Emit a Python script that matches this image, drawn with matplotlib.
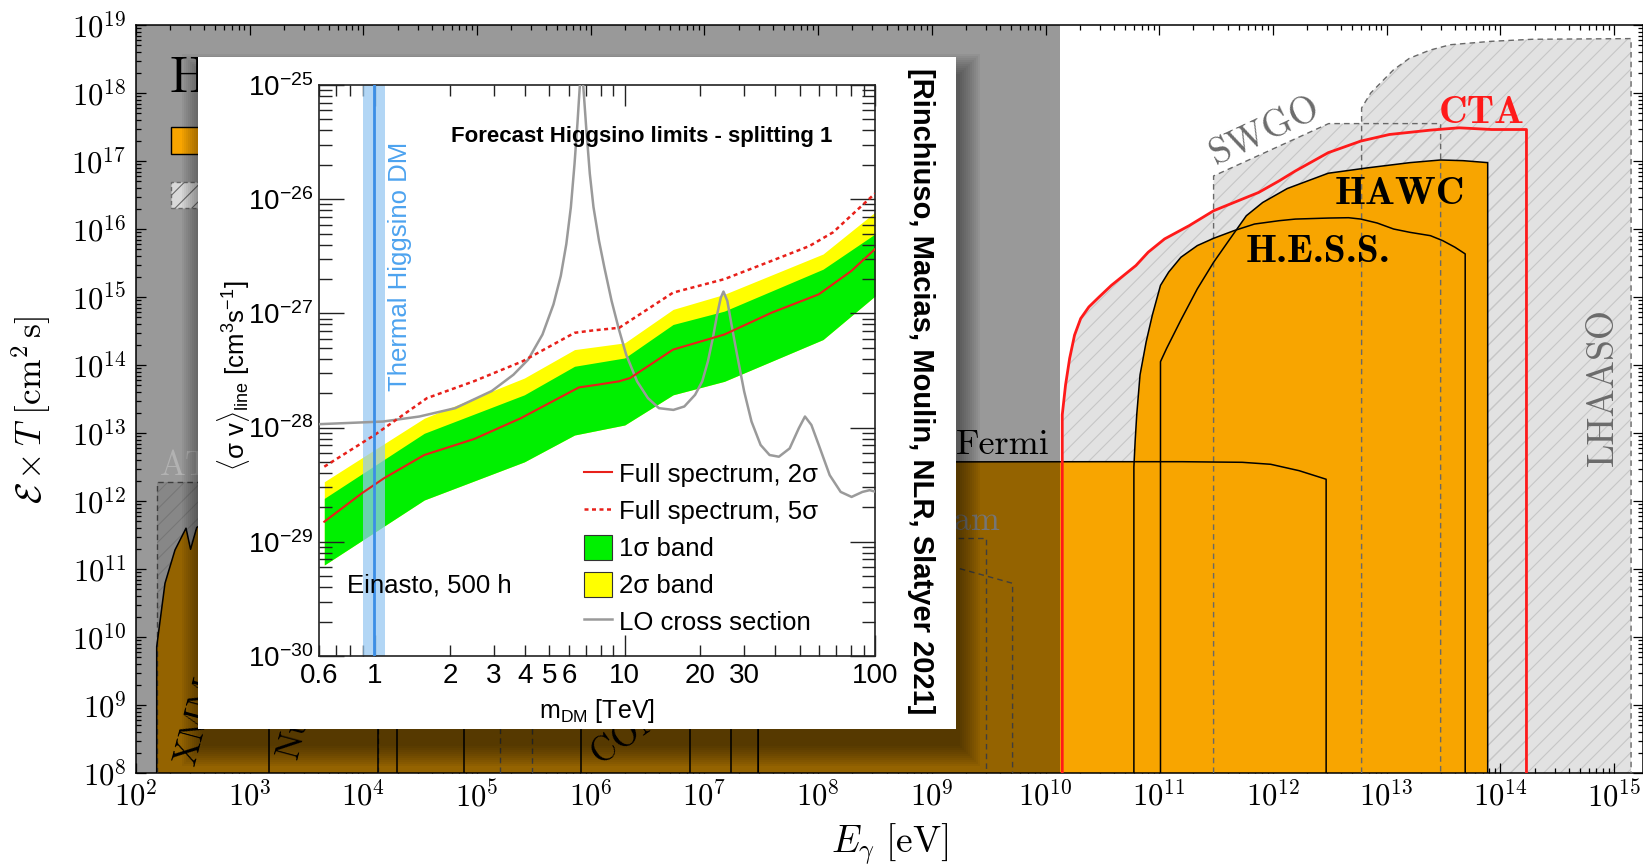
import numpy as np
import matplotlib
matplotlib.use("Agg")
import matplotlib.pyplot as plt
from matplotlib.patches import Rectangle, Patch
from matplotlib.lines import Line2D
from matplotlib.ticker import FuncFormatter, LogLocator, NullFormatter

plt.rcParams.update({
    "mathtext.fontset": "cm",
    "mathtext.rm": "Liberation Sans",
    "mathtext.it": "Liberation Sans:italic",
    "mathtext.bf": "Liberation Sans:bold",
    "mathtext.sf": "Liberation Sans",
    "font.family": "DejaVu Serif",
    "hatch.linewidth": 0.8,
    "axes.linewidth": 1.1,
})

W, H = 1643, 867

# ------------------------------------------------------------------
# Main panel: log10(E_gamma / eV) and log10(exposure / cm^2 s)
# ------------------------------------------------------------------
shaded_logE_max = 10.127          # low-energy part of the plane that is greyed out

lowE_logE = [2.182, 2.182, 2.255, 2.343, 2.44, 2.48, 2.534, 2.8, 4.0, 7.473, 7.473]
lowE_logX = [8.0, 9.857, 10.79, 11.28, 11.6, 11.29, 11.61, 11.9, 11.9, 11.9, 8.0]

edge_solid_logE = [3.171, 4.13, 4.297, 4.888, 5.913, 6.873, 7.236]
edge_solid_top = [11.5, 11.5, 11.5, 11.5, 11.5, 11.5, 11.5]

fermi_logE = [7.473, 7.473, 9.0, 10.5, 11.2, 11.73, 11.98, 12.23, 12.468, 12.468]
fermi_logX = [8.0, 12.57, 12.575, 12.578, 12.578, 12.569, 12.54, 12.446, 12.32, 8.0]

hess_logE = [10.777, 10.777, 10.788, 10.802, 10.831, 10.885, 10.939, 11.011, 11.083,
             11.191, 11.335, 11.478, 11.658, 11.838, 12.054, 12.198, 12.486, 12.665,
             12.773, 12.917, 13.061, 13.205, 13.385, 13.493, 13.601, 13.691, 13.691]
hess_logX = [8.0, 12.5, 12.878, 13.268, 13.854, 14.341, 14.732, 15.171, 15.366,
             15.585, 15.756, 15.863, 15.976, 16.073, 16.122, 16.146, 16.161, 16.166,
             16.146, 16.088, 16.0, 15.951, 15.902, 15.829, 15.732, 15.634, 8.0]

hawc_logE = [11.011, 11.011, 11.065, 11.19, 11.335, 11.478, 11.622, 11.766, 11.91,
             12.126, 12.486, 12.845, 13.205, 13.475, 13.673, 13.889, 13.889]
hawc_logX = [8.0, 14.049, 14.244, 14.66, 15.12, 15.51, 15.854, 16.195, 16.39,
             16.595, 16.82, 16.902, 16.976, 17.015, 17.005, 16.976, 8.0]

cta_logE = [10.147, 10.147, 10.176, 10.212, 10.255, 10.309, 10.381, 10.471, 10.579,
            10.687, 10.795, 10.903, 11.047, 11.263, 11.478, 11.694, 11.874, 12.054,
            12.198, 12.486, 12.773, 13.025, 13.385, 13.637, 13.924, 14.23, 14.23]
cta_logX = [8.0, 13.268, 13.707, 14.098, 14.439, 14.683, 14.854, 15.0, 15.171,
            15.317, 15.463, 15.659, 15.854, 16.049, 16.268, 16.415, 16.537, 16.707,
            16.854, 17.122, 17.293, 17.39, 17.454, 17.488, 17.463, 17.463, 8.0]

swgo_logE = [11.478, 11.478, 12.49, 13.475, 13.475]
swgo_logX = [8.0, 16.78, 17.55, 17.55, 8.0]

lhaaso_logE = [12.78, 12.78, 12.86, 13.06, 13.2, 13.38, 13.56, 13.92, 14.28, 15.15, 15.15]
lhaaso_logX = [8.0, 17.78, 18.0, 18.34, 18.51, 18.63, 18.71, 18.76, 18.79, 18.80, 8.0]

athena_logE = [2.182, 2.182, 4.13, 4.13]
athena_logX = [8.0, 12.275, 12.275, 8.0]

eastrogam_logE = [5.479, 5.479, 9.476, 9.476]
eastrogam_logX = [8.0, 11.45, 11.45, 8.0]

amego_logE = [5.206, 5.206, 8.5, 9.71, 9.71]
amego_logX = [8.0, 11.35, 11.35, 10.79, 8.0]

# ------------------------------------------------------------------
# Inset: forecast Higgsino line limits
# ------------------------------------------------------------------
m_band = [0.63, 1.58, 3.97, 6.3, 10.0, 15.6, 25.0, 62.0, 100.0]
green_lo_log = [-29.203, -28.634, -28.30, -28.065, -27.977, -27.713, -27.595, -27.229, -26.848]
green_hi_log = [-28.62, -28.05, -27.713, -27.463, -27.39, -27.097, -26.98, -26.613, -26.305]
yellow_hi_log = [-28.474, -27.918, -27.566, -27.317, -27.258, -26.965, -26.833, -26.48, -26.114]

m_2sig = [0.63, 0.89, 1.09, 1.58, 2.5, 3.84, 4.85, 6.56, 7.75, 9.48, 10.5, 15.6, 25.0,
          38.6, 59.6, 80.5, 100.0]
lim_2sig_log = [-28.824, -28.575, -28.444, -28.24, -28.10, -27.918, -27.80, -27.648,
                -27.625, -27.595, -27.566, -27.317, -27.185, -26.994, -26.833, -26.628, -26.437]

m_5sig = [0.63, 1.0, 1.62, 2.49, 3.9, 6.3, 7.4, 9.5, 15.6, 25.0, 38.6, 54.7, 68.0, 100.0]
lim_5sig_log = [-28.342, -28.065, -27.742, -27.595, -27.42, -27.17, -27.15, -27.126,
                -26.818, -26.70, -26.54, -26.41, -26.29, -25.95]

m_lo = [0.6, 1.08, 1.51, 2.1, 2.94, 3.59, 4.11, 4.69, 5.19, 5.55, 5.84, 6.09, 6.30,
        6.47, 6.61, 6.71, 6.83, 7.01, 7.25, 7.50, 7.89, 8.29, 8.86, 9.48, 10.13, 11.2,
        12.38, 13.70, 15.65, 17.3, 19.1, 20.4, 21.5, 22.5, 23.4, 24.2, 24.8, 25.7,
        26.7, 28.1, 30.0, 32.1, 34.9, 37.9, 41.3, 45.6, 49.6, 52.5, 55.7, 59.6, 65.9,
        72.9, 80.6, 89.1, 95.2, 100.0]
sv_lo_log = [-27.97, -27.947, -27.903, -27.83, -27.68, -27.537, -27.405, -27.185,
             -26.921, -26.672, -26.393, -26.070, -25.689, -25.337, -25.015, -24.90,
             -25.015, -25.367, -25.777, -26.07, -26.364, -26.598, -26.891, -27.141,
             -27.361, -27.595, -27.742, -27.830, -27.845, -27.815, -27.713, -27.595,
             -27.419, -27.214, -27.009, -26.862, -26.809, -26.891, -27.097, -27.361,
             -27.683, -27.947, -28.152, -28.24, -28.255, -28.182, -28.006, -27.903,
             -27.977, -28.152, -28.416, -28.563, -28.607, -28.563, -28.548, -28.56]

thermal_mass = 0.995
thermal_band = (0.897, 1.10)

inset_major_xticks = [1, 10, 100]
inset_minor_xticks = [0.6, 0.7, 0.8, 0.9, 2, 3, 4, 5, 6, 7, 8, 9,
                      20, 30, 40, 50, 60, 70, 80, 90]
inset_labeled_minor = [0.6, 2, 3, 4, 5, 6, 20, 30]
inset_yticks_exp = [-30, -29, -28, -27, -26, -25]

ORANGE = "#f8a500"
HATCH_FILL = "#e2e2e2"
HATCH_LINE = "#c6c6c6"
DASH_GREY = "#686868"


def p10(v):
    return np.power(10.0, np.asarray(v, dtype=float))


fig = plt.figure(figsize=(W / 100, H / 100), dpi=100)

# ------------------------------------------------------------------ main axes
ax = fig.add_axes([136 / W, 1 - 773 / H, (W - 136) / W, 748 / H], zorder=0)
ax.set_xscale("log")
ax.set_yscale("log")
ax.set_xlim(1e2, 10 ** 15.255)
ax.set_ylim(1e8, 1e19)


def hatched(xl, yl, z):
    ax.fill(p10(xl), p10(yl), facecolor=HATCH_FILL, lw=0, zorder=z)
    ax.fill(p10(xl), p10(yl), facecolor="none", edgecolor=HATCH_LINE, hatch="//",
            lw=0, zorder=z + 0.05)


def dashed(xl, yl):
    ax.plot(p10(xl), p10(yl), color=DASH_GREY, lw=1.0, ls=(0, (4, 3)), zorder=2.6)


for xl, yl in [(athena_logE, athena_logX), (eastrogam_logE, eastrogam_logX),
               (amego_logE, amego_logX), (lhaaso_logE, lhaaso_logX),
               (swgo_logE, swgo_logX), (cta_logE, cta_logX)]:
    hatched(xl, yl, 1)

for xl, yl in [(lowE_logE, lowE_logX), (fermi_logE, fermi_logX),
               (hess_logE, hess_logX), (hawc_logE, hawc_logX)]:
    ax.fill(p10(xl), p10(yl), facecolor=ORANGE, edgecolor="none", zorder=2)

for xl, yl in [(athena_logE, athena_logX), (eastrogam_logE, eastrogam_logX),
               (amego_logE, amego_logX), (lhaaso_logE, lhaaso_logX),
               (swgo_logE, swgo_logX)]:
    dashed(xl, yl)

for xl, yl in [(lowE_logE, lowE_logX), (fermi_logE, fermi_logX),
               (hess_logE, hess_logX), (hawc_logE, hawc_logX)]:
    ax.plot(p10(xl), p10(yl), color="black", lw=1.1, zorder=2.7)

ax.vlines(p10(edge_solid_logE), 1e8, p10(edge_solid_top), color="black", lw=1.1, zorder=2.7)

ax.plot(p10(cta_logE), p10(cta_logX), color="#ff1a1a", lw=2.0, zorder=3,
        solid_joinstyle="round")

ax.axvspan(1e2, 10 ** shaded_logE_max, color="black", alpha=0.4, lw=0, zorder=4)

# labels of the instruments (Computer Modern faces shipped with matplotlib)
roman = dict(fontfamily="cmr10", zorder=6)
bold = dict(fontfamily="cmb10", zorder=6)
ax.text(10 ** 9.62, 10 ** 12.69, "Fermi", fontsize=26, ha="center",
        va="baseline", color="black", **roman)
ax.text(10 ** 13.835, 10 ** 17.56, "CTA", fontsize=28.5, ha="center",
        va="baseline", color="#ff1a1a", **bold)
ax.text(10 ** 13.12, 10 ** 16.366, "HAWC", fontsize=28.5, ha="center",
        va="baseline", color="black", **bold)
ax.text(10 ** 12.396, 10 ** 15.512, "H.E.S.S.", fontsize=28.5, ha="center",
        va="baseline", color="black", **bold)
ax.text(10 ** 11.928, 10 ** 17.44, "SWGO", fontsize=27, ha="center",
        va="center", rotation=25, rotation_mode="anchor", color="#6b6b6b", **roman)
ax.text(10 ** 14.903, 10 ** 13.673, "LHAASO", fontsize=27, ha="center",
        va="center", rotation=90, color="#6b6b6b", **roman)
ax.text(10 ** 9.60, 10 ** 11.57, "e-Astrogam", fontsize=25, ha="right",
        va="baseline", color="#767676", **roman)
ax.text(10 ** 2.211, 10 ** 12.38, "ATHENA", fontsize=25, ha="left",
        va="baseline", color="#b2b2b2", **roman)
ax.text(10 ** 2.514, 10 ** 8.093, "XMM", fontsize=25, ha="left",
        va="baseline", rotation=75, rotation_mode="anchor", color="black", **roman)
ax.text(10 ** 3.416, 10 ** 8.19, "NuSTAR", fontsize=25, ha="left",
        va="baseline", rotation=75, rotation_mode="anchor", color="black", **roman)
ax.text(10 ** 6.08, 10 ** 8.12, "COMPTEL", fontsize=25, ha="left",
        va="baseline", rotation=35, rotation_mode="anchor", color="black", **roman)

# key in the upper-left corner
ax.text(0.0219, 0.9104, "H", transform=ax.transAxes, fontsize=36,
        ha="left", va="baseline", fontfamily="cmr10", zorder=7)
ax.add_patch(Rectangle((0.0233, 0.8275), 0.05, 0.0361, transform=ax.transAxes,
                       facecolor=ORANGE, edgecolor="black", lw=1.0, zorder=7))
ax.add_patch(Rectangle((0.0233, 0.7553), 0.05, 0.0348, transform=ax.transAxes,
                       facecolor="#d9d9d9", edgecolor="#6a6a6a", hatch="//",
                       lw=1.0, ls=(0, (3, 2)), zorder=7))

# axes styling
dec_fmt = FuncFormatter(lambda v, p: r"$10^{%d}$" % int(round(np.log10(v))))
for axis in (ax.xaxis, ax.yaxis):
    axis.set_major_locator(LogLocator(base=10, numticks=40))
    axis.set_minor_locator(LogLocator(base=10, subs=np.arange(2, 10), numticks=400))
    axis.set_minor_formatter(NullFormatter())
    axis.set_major_formatter(dec_fmt)
ax.tick_params(which="both", direction="in", top=True, right=True, width=0.9,
               labelsize=22)
ax.tick_params(which="major", length=7)
ax.tick_params(which="minor", length=3.5)
ax.tick_params(axis="x", pad=6)
ax.tick_params(axis="y", pad=7)
ax.set_xlabel(r"$E_\gamma\ [\mathrm{eV}]$", fontsize=27)
ax.set_ylabel(r"$\mathcal{E}\times T\ [\mathrm{cm}^2\,\mathrm{s}]$", fontsize=25.5)
ax.xaxis.set_label_coords(0.5, -0.066)
ax.yaxis.set_label_coords(-0.055, 0.485)


# ------------------------------------------------------------------ inset card
def fig_rect(px, py, pw, ph, **kw):
    return Rectangle((px / W, 1 - (py + ph) / H), pw / W, ph / H,
                     transform=fig.transFigure, **kw)


bx0, by0, bw, bh = 198, 57, 758, 672
for s in range(0, 22, 2):
    fig.add_artist(fig_rect(bx0 - s + 4, by0 - s + 17, bw + 2 * s, bh + 2 * s,
                            facecolor="black", edgecolor="none", alpha=0.045,
                            zorder=0.5))
fig.add_artist(fig_rect(bx0, by0, bw, bh, facecolor="white", edgecolor="none", zorder=1))

ax_in = fig.add_axes([319 / W, 1 - 656 / H, 556 / W, 571 / H], zorder=2)
ax_in.set_xscale("log")
ax_in.set_yscale("log")
ax_in.set_xlim(0.6, 100)
ax_in.set_ylim(1e-30, 1e-25)

sans = dict(fontfamily="Liberation Sans", math_fontfamily="custom")

ax_in.fill_between(m_band, p10(green_lo_log), p10(yellow_hi_log), color="#ffff00",
                   lw=0, zorder=1)
ax_in.fill_between(m_band, p10(green_lo_log), p10(green_hi_log), color="#00f000",
                   lw=0, zorder=1.1)
ax_in.axvspan(thermal_band[0], thermal_band[1], color="#94c7f2", alpha=0.72, lw=0,
              zorder=2)
ax_in.plot(m_lo, p10(sv_lo_log), color="#9a9a9a", lw=1.8, zorder=3,
           solid_joinstyle="round")
ax_in.plot(m_2sig, p10(lim_2sig_log), color="#e8201a", lw=1.5, zorder=3.1)
ax_in.plot(m_5sig, p10(lim_5sig_log), color="#e8201a", lw=1.8, ls=(0, (1.6, 1.4)),
           zorder=3.1)
ax_in.axvline(thermal_mass, color="#3b8ee6", lw=2.0, zorder=4)

ax_in.text(1.264, 10 ** -26.59, "Thermal Higgsino DM", rotation=90, ha="center",
           va="center", color="#4da3ef", fontsize=18.5, zorder=5, **sans)
ax_in.text(11.68, 10 ** -25.455, "Forecast Higgsino limits - splitting 1",
           fontweight="bold", fontsize=16, ha="center", va="center", zorder=5, **sans)
ax_in.text(0.776, 10 ** -29.448, "Einasto, 500 h", fontsize=18.5, ha="left",
           va="baseline", zorder=5, **sans)

handles = [Line2D([], [], color="#e8201a", lw=1.5),
           Line2D([], [], color="#e8201a", lw=1.8, ls=(0, (1.6, 1.4))),
           Patch(facecolor="#00f000", edgecolor="#333333", lw=0.8),
           Patch(facecolor="#ffff00", edgecolor="#333333", lw=0.8),
           Line2D([], [], color="#9a9a9a", lw=1.8)]
labels = ["Full spectrum, 2σ", "Full spectrum, 5σ", "1σ band", "2σ band",
          "LO cross section"]
ax_in.legend(handles, labels, loc="upper left", bbox_to_anchor=(0.4766, 0.341),
             frameon=False, prop=dict(family="Liberation Sans", size=18.5),
             handlelength=1.1, handleheight=1.1, handletextpad=0.25,
             labelspacing=0.42, borderpad=0, borderaxespad=0)

ax_in.set_xticks(inset_major_xticks, labels=[str(v) for v in inset_major_xticks],
                 fontsize=20, **sans)
ax_in.set_xticks(inset_minor_xticks,
                 labels=[("%g" % v if v in inset_labeled_minor else "")
                         for v in inset_minor_xticks],
                 minor=True, fontsize=20, **sans)
ax_in.set_yticks(p10(inset_yticks_exp),
                 labels=[r"$10^{%d}$" % e for e in inset_yticks_exp],
                 fontsize=20, **sans)
ax_in.yaxis.set_minor_locator(LogLocator(base=10, subs=np.arange(2, 10), numticks=100))
ax_in.yaxis.set_minor_formatter(NullFormatter())
ax_in.tick_params(which="both", direction="in", top=True, right=True, width=1.0,
                  colors="#222222", labelcolor="black")
ax_in.tick_params(axis="x", which="major", length=15, pad=5)
ax_in.tick_params(axis="x", which="minor", length=8, pad=5)
ax_in.tick_params(axis="y", which="major", length=18, pad=4)
ax_in.tick_params(axis="y", which="minor", length=9.5, pad=4)
for sp in ax_in.spines.values():
    sp.set_color("#222222")
    sp.set_linewidth(1.2)

ax_in.set_xlabel(r"$\mathrm{m_{DM}}$ [TeV]", fontsize=18, **sans)
ax_in.set_ylabel(r"$\langle\mathrm{σ\ v}\rangle_{\mathrm{line}}\ [\mathrm{cm^{3}s^{-1}}]$",
                 fontsize=18.5, **sans)
ax_in.xaxis.set_label_coords(0.5, -0.0718)
ax_in.yaxis.set_label_coords(-0.12, 0.49)

fig.text(921 / W, 1 - 391 / H, "[Rinchiuso, Macias, Moulin, NLR, Slatyer 2021]",
         rotation=270, ha="center", va="center", fontsize=21, fontweight="bold",
         fontfamily="Liberation Sans", zorder=4)

fig.savefig("out.png", dpi=100)
